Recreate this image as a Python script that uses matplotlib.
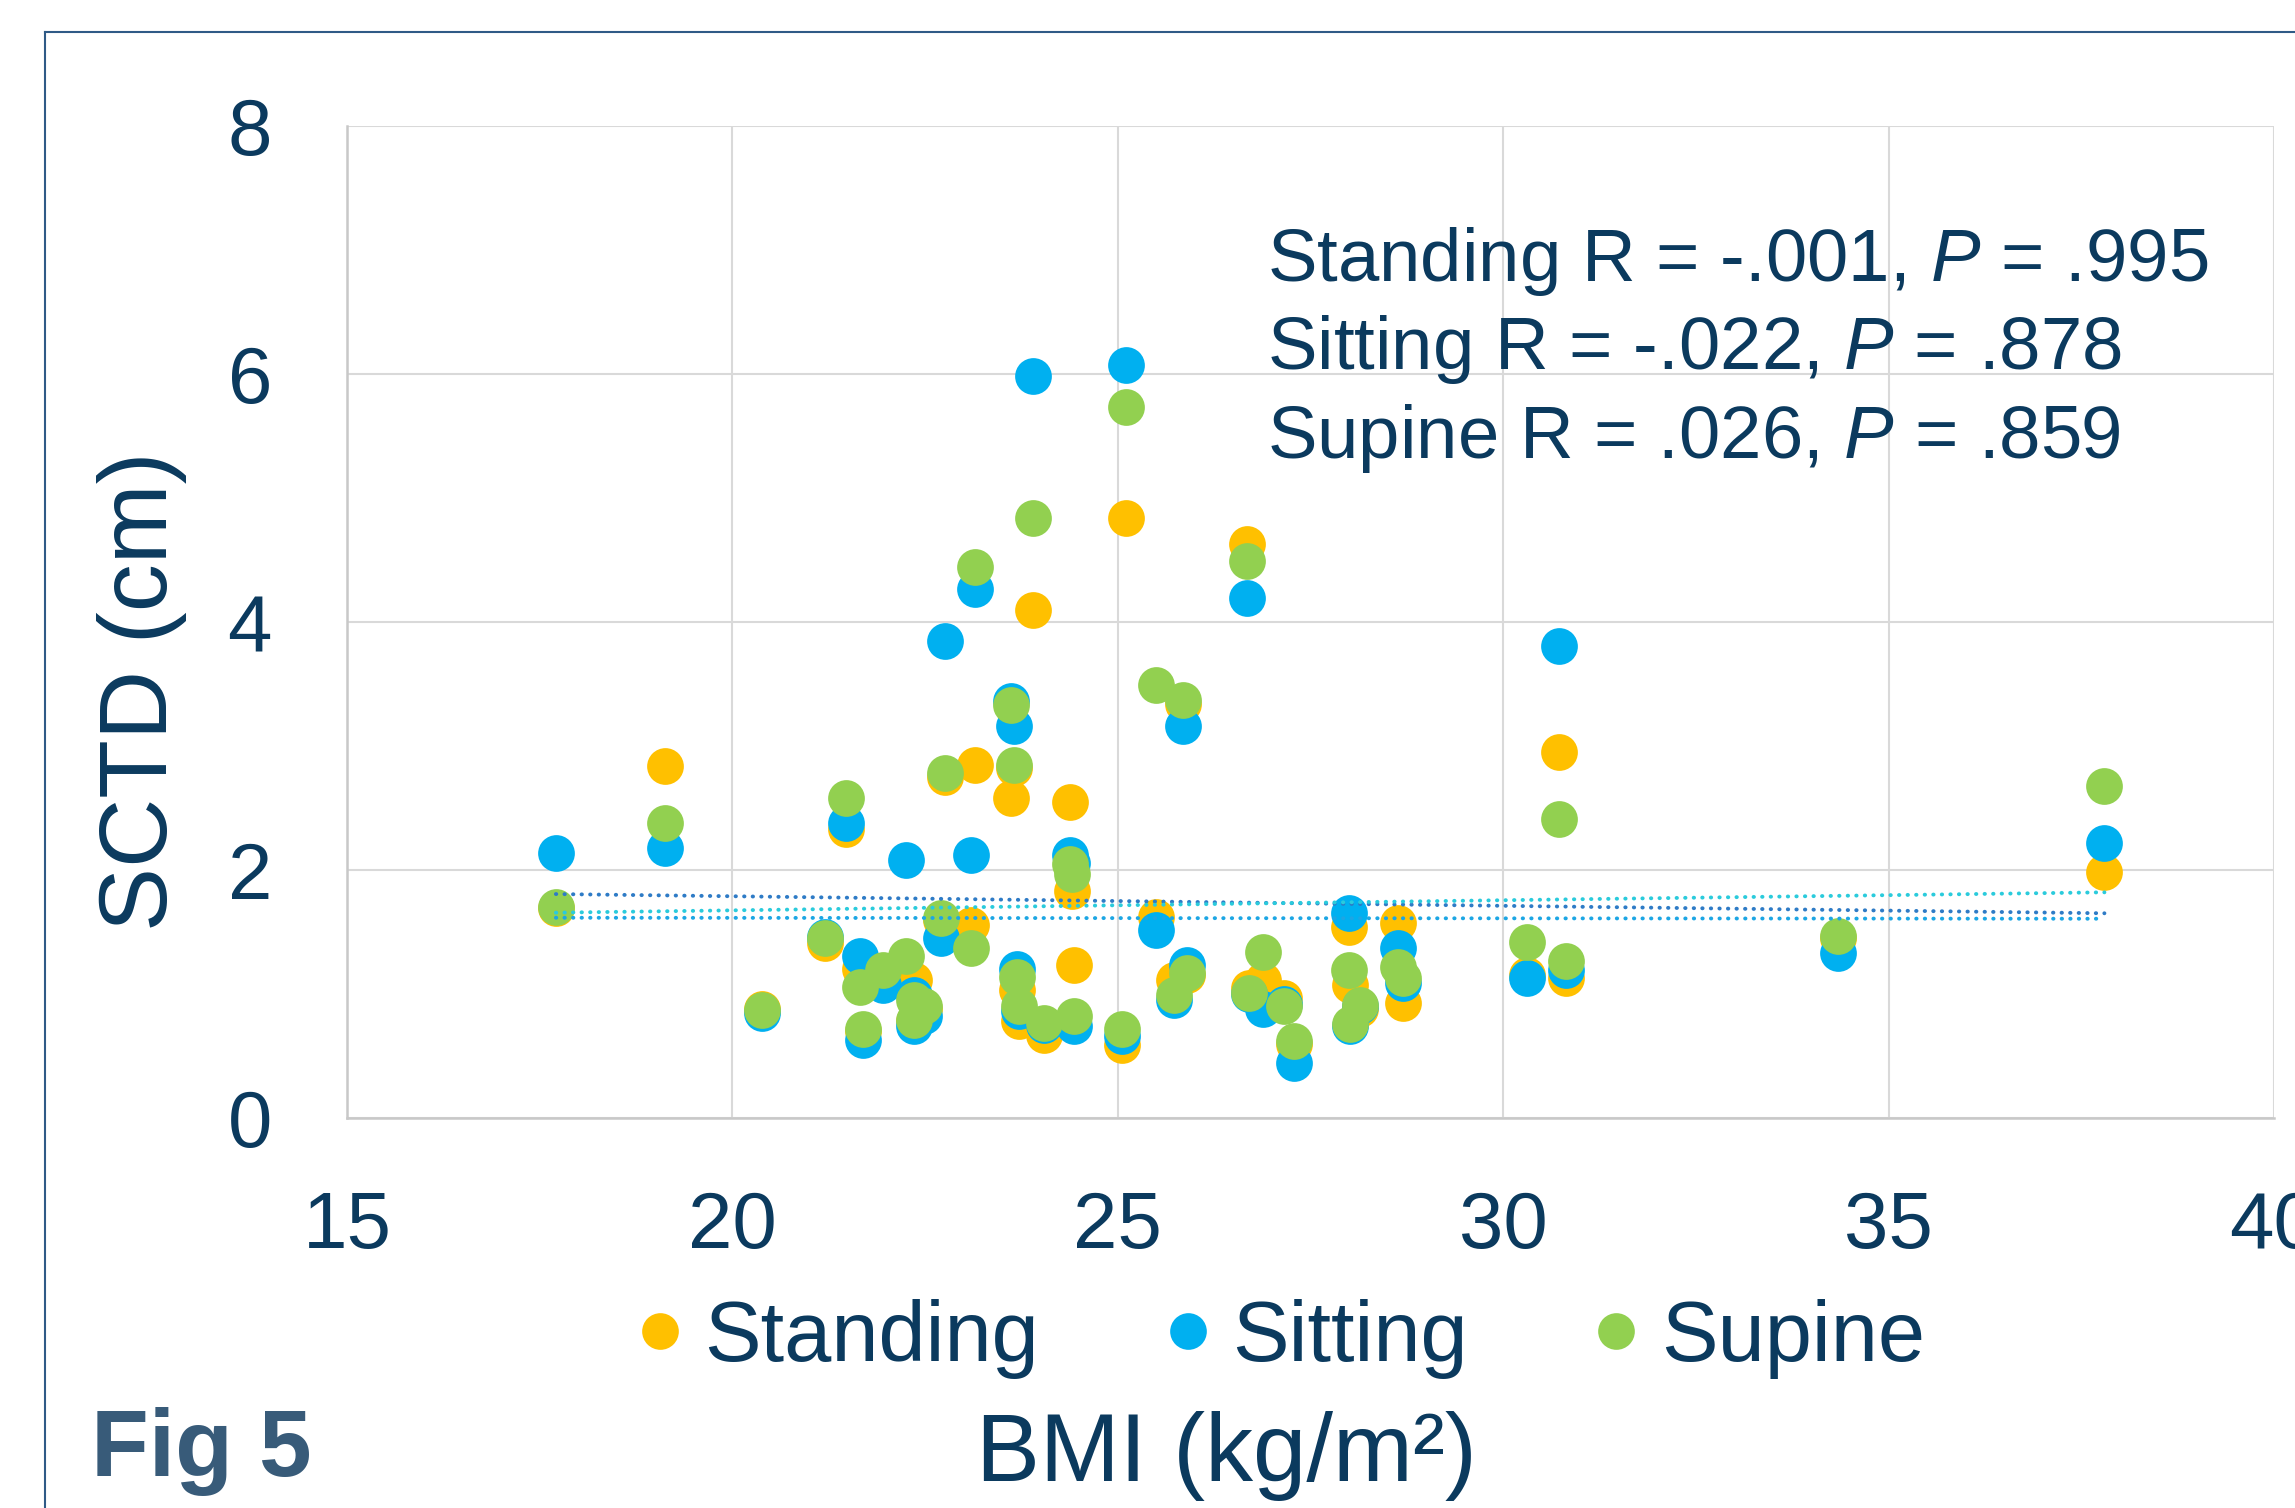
import matplotlib
matplotlib.use("Agg")
import matplotlib.pyplot as plt
from matplotlib.lines import Line2D

plt.rcParams['font.family'] = ['Liberation Sans', 'DejaVu Sans']
plt.rcParams['mathtext.fontset'] = 'custom'
plt.rcParams['mathtext.rm'] = 'Liberation Sans'
plt.rcParams['mathtext.it'] = 'Liberation Sans:italic'

# one entry per subject: BMI and SCTD (cm) in three positions
bmi = [17.71, 19.13, 20.39, 21.20, 21.47, 21.66, 21.69, 21.96, 22.25, 22.35,
       22.35, 22.48, 22.70, 22.76, 23.09, 23.15, 23.62, 23.65, 23.69, 23.72,
       23.90, 24.04, 24.38, 24.40, 24.43, 25.05, 25.10, 25.49, 25.73, 25.85,
       25.90, 26.68, 26.70, 26.88, 27.15, 27.29, 28.00, 28.01, 28.14, 28.63,
       28.70, 30.31, 30.73, 30.81, 34.35, 37.80]
standing = [1.69, 2.84, 0.88, 1.41, 2.33, 1.20, 0.70, 1.15, 1.10, 1.11,
            0.78, 0.88, 1.60, 2.75, 1.56, 2.85, 2.58, 2.82, 1.03, 0.78,
            4.10, 0.67, 2.55, 1.83, 1.23, 0.59, 4.84, 1.62, 1.11, 3.34,
            1.15, 4.63, 1.05, 1.11, 0.97, 0.60, 1.54, 1.07, 0.88, 1.57,
            0.93, 1.15, 2.95, 1.13, 1.45, 1.98]
sitting = [2.14, 2.18, 0.85, 1.46, 2.38, 1.31, 0.63, 1.07, 2.08, 0.99,
           0.74, 0.82, 1.45, 3.85, 2.12, 4.27, 3.36, 3.16, 1.20, 0.86,
           5.98, 0.75, 2.12, 2.06, 0.74, 0.66, 6.07, 1.52, 0.95, 3.16,
           1.23, 4.19, 1.00, 0.88, 0.92, 0.44, 1.65, 0.74, 0.90, 1.37,
           1.09, 1.13, 3.81, 1.19, 1.33, 2.22]
supine = [1.70, 2.38, 0.87, 1.45, 2.58, 1.06, 0.72, 1.19, 1.31, 0.95,
          0.79, 0.90, 1.61, 2.78, 1.37, 4.44, 3.33, 2.85, 1.14, 0.90,
          4.84, 0.77, 2.05, 1.97, 0.82, 0.72, 5.73, 3.49, 0.99, 3.37,
          1.17, 4.49, 1.01, 1.34, 0.90, 0.62, 1.19, 0.76, 0.91, 1.22,
          1.13, 1.42, 2.41, 1.27, 1.47, 2.68]

# linear trend lines (end points)
trend_x = [17.71, 37.80]
trend_standing = [1.615, 1.607]
trend_sitting = [1.806, 1.651]
trend_supine = [1.656, 1.820]

stats = ["Standing R = -.001, $P$ = .995",
         "Sitting R = -.022, $P$ = .878",
         "Supine R = .026, $P$ = .859"]

navy = "#0B3A5E"
c_stand, c_sit, c_sup = "#FFC000", "#00B0F0", "#92D050"

fig = plt.figure(figsize=(22.95, 15.08), dpi=100)
ax = fig.add_axes([347 / 2295, 1 - 1118 / 1508, (2274 - 347) / 2295, (1118 - 126) / 1508])

ms = 700
ax.scatter(bmi, standing, s=ms, color=c_stand, linewidths=0, zorder=3)
ax.scatter(bmi, sitting, s=ms, color=c_sit, linewidths=0, zorder=4)
ax.scatter(bmi, supine, s=ms, color=c_sup, linewidths=0, zorder=5)

dots = dict(lw=2.8, linestyle=(0, (0.1, 2.1)), dash_capstyle='round', zorder=6)
ax.plot(trend_x, trend_sitting, color="#2E7BC6", **dots)
ax.plot(trend_x, trend_supine, color="#2ACBDC", **dots)
ax.plot(trend_x, trend_standing, color="#1CA6E4", **dots)

ax.set_xlim(15, 40)
ax.set_ylim(0, 8)
ax.set_xticks(range(15, 41, 5))
ax.set_yticks(range(0, 9, 2))
ax.grid(True, color="#D9D9D9", lw=1.5, zorder=0)
ax.set_axisbelow(True)
for side in ["top", "right"]:
    ax.spines[side].set_visible(False)
for side in ["left", "bottom"]:
    ax.spines[side].set_color("#C8C8C8")
    ax.spines[side].set_linewidth(1.8)
ax.tick_params(length=0, labelsize=57.5, labelcolor=navy)
ax.tick_params(axis="x", pad=52)
ax.tick_params(axis="y", pad=54)

for i, s in enumerate(stats):
    fig.text(1267 / 2295, 1 - (281 + 88.5 * i) / 1508, s, fontsize=53.6,
             color=navy, va="baseline", ha="left")

fig.text(142 / 2295, 1 - 691 / 1508, "SCTD (cm)", rotation=90, fontsize=69,
         color=navy, ha="center", va="center")
fig.text(1226 / 2295, 1 - 1456 / 1508, "BMI (kg/m²)", fontsize=69,
         color=navy, ha="center", va="center")
fig.text(91 / 2295, 1 - 1452 / 1508, "Fig 5", fontsize=68, fontweight="bold",
         color="#385B79", ha="left", va="center")

handles = [Line2D([], [], marker="o", linestyle="none", markersize=26.4,
                  markerfacecolor=c, markeredgewidth=0)
           for c in (c_stand, c_sit, c_sup)]
fig.legend(handles, ["Standing", "Sitting", "Supine"], loc="center",
           bbox_to_anchor=(1284 / 2295, 1 - 1339 / 1508), ncol=3, frameon=False,
           fontsize=61, labelcolor=navy, handlelength=0.4, handletextpad=0.33,
           columnspacing=1.55, borderpad=0)

# thin frame around the figure panel
fig.add_artist(Line2D([45 / 2295, 45 / 2295], [0, 1 - 32 / 1508],
                      transform=fig.transFigure, color="#2F5A86", lw=1.5))
fig.add_artist(Line2D([45 / 2295, 1], [1 - 32 / 1508, 1 - 32 / 1508],
                      transform=fig.transFigure, color="#2F5A86", lw=1.5))

fig.savefig("out.png", dpi=100)
